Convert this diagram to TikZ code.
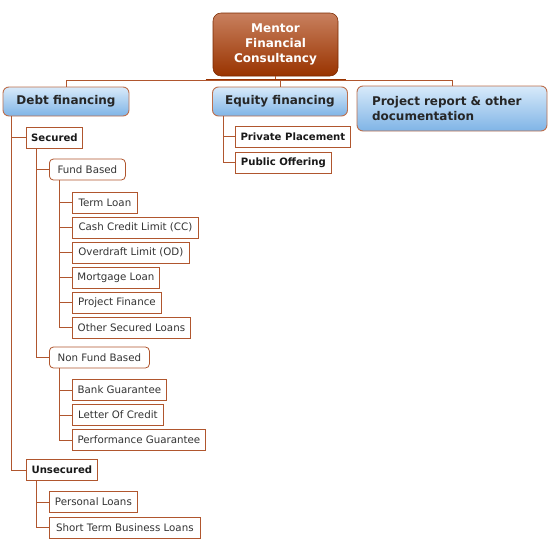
\documentclass[tikz,border=0pt]{standalone}
\usepackage{fontspec}
\setmainfont{DejaVu Sans}
\usetikzlibrary{positioning,calc}
\definecolor{rust}{HTML}{993300}
\definecolor{rustlight}{HTML}{C8805E}
\definecolor{linkbrown}{HTML}{B0562E}
\definecolor{skytop}{HTML}{D8EAFA}
\definecolor{skybot}{HTML}{7FB4E6}
\definecolor{inktext}{HTML}{333333}
\tikzset{
  link/.style={draw=linkbrown, line width=0.7pt},
  boxw/.style={minimum width=#1*0.75pt},
  boxh/.style={minimum height=#1*0.75pt},
  rootbox/.style={draw=rust!80!black, rounded corners=6pt, top color=rustlight, middle color=rust!90!rustlight,
    bottom color=rust, text=white, font=\bfseries\fontsize{9}{11.25}\selectfont, align=center, inner sep=0pt},
  mainbox/.style={draw=linkbrown!85, line width=0.7pt, rounded corners=4.5pt, top color=skytop, bottom color=skybot,
    text=black!85, font=\bfseries\fontsize{9}{11.25}\selectfont, inner sep=0pt},
  leafbox/.style={draw=linkbrown, line width=0.6pt, fill=white, text=inktext,
    font=\fontsize{7.7}{9}\selectfont, inner sep=0pt, boxh=21, anchor=west},
  groupbox/.style={leafbox, rounded corners=3pt},
  headbox/.style={leafbox, text=black!90, font=\bfseries\fontsize{7.6}{9}\selectfont},
}
\begin{document}
\begin{tikzpicture}[x=0.75pt, y=-0.75pt]
  \useasboundingbox (0,0) rectangle (555,543);
  % top level
  \node[rootbox, boxw=125, boxh=63] (root) at (275.5,44.5) {Mentor\\Financial\\Consultancy};
  \node[mainbox, boxw=126, boxh=29] (debt) at (66,101.5) {Debt financing};
  \node[mainbox, boxw=135, boxh=29] (equity) at (280,101.5) {Equity financing};
  \node[mainbox, boxw=190, boxh=45, text width=160*0.75pt, align=left] (project) at (452,108.5)
    {Project report \& other documentation};
  \coordinate (bus) at ($(root.south)+(0,4)$);
  \draw[link] (root.south) -- (bus);
  \draw[link, line width=1.2pt, rust] ($(bus)+(-70,0)$) -- ($(bus)+(70,0)$);
  \foreach \n in {debt,equity,project}
    \draw[link] (bus) -| (\n.north);

  % debt financing
  \node[headbox, boxw=56] (secured) at (26,137.5) {Secured};
  \node[groupbox, boxw=76] (fund) at (49,169.5) {Fund Based};
  \node[leafbox, boxw=65] (term) at (72,202.5) {Term Loan};
  \node[leafbox, boxw=126] (cash) at (72,227.5) {Cash Credit Limit (CC)};
  \node[leafbox, boxw=117] (overdraft) at (72,252.5) {Overdraft Limit (OD)};
  \node[leafbox, boxw=87] (mortgage) at (72,277.5) {Mortgage Loan};
  \node[leafbox, boxw=89] (projfin) at (72,302.5) {Project Finance};
  \node[leafbox, boxw=118] (othersec) at (72,327.5) {Other Secured Loans};
  \node[groupbox, boxw=100] (nonfund) at (49,357.5) {Non Fund Based};
  \node[leafbox, boxw=94] (bank) at (72,390) {Bank Guarantee};
  \node[leafbox, boxw=91] (letter) at (72,415) {Letter Of Credit};
  \node[leafbox, boxw=133] (perf) at (72,440) {Performance Guarantee};
  \node[headbox, boxw=71] (unsecured) at (26,470) {Unsecured};
  \node[leafbox, boxw=88] (personal) at (49,502) {Personal Loans};
  \node[leafbox, boxw=151] (shortterm) at (49,527.5) {Short Term Business Loans};

  % equity financing
  \node[headbox, boxw=115] (private) at (235,136.5) {Private Placement};
  \node[headbox, boxw=96] (public) at (235,162.5) {Public Offering};

  % connectors
  \foreach \c in {secured,unsecured}
    \draw[link] ($(debt.south west)+(9,0)$) |- (\c.west);
  \foreach \c in {fund,nonfund}
    \draw[link] ($(secured.south west)+(10,0)$) |- (\c.west);
  \foreach \c in {term,cash,overdraft,mortgage,projfin,othersec}
    \draw[link] ($(fund.south west)+(10,0)$) |- (\c.west);
  \foreach \c in {bank,letter,perf}
    \draw[link] ($(nonfund.south west)+(10,0)$) |- (\c.west);
  \foreach \c in {personal,shortterm}
    \draw[link] ($(unsecured.south west)+(10,0)$) |- (\c.west);
  \foreach \c in {private,public}
    \draw[link] ($(equity.south west)+(11,0)$) |- (\c.west);
\end{tikzpicture}
\end{document}
